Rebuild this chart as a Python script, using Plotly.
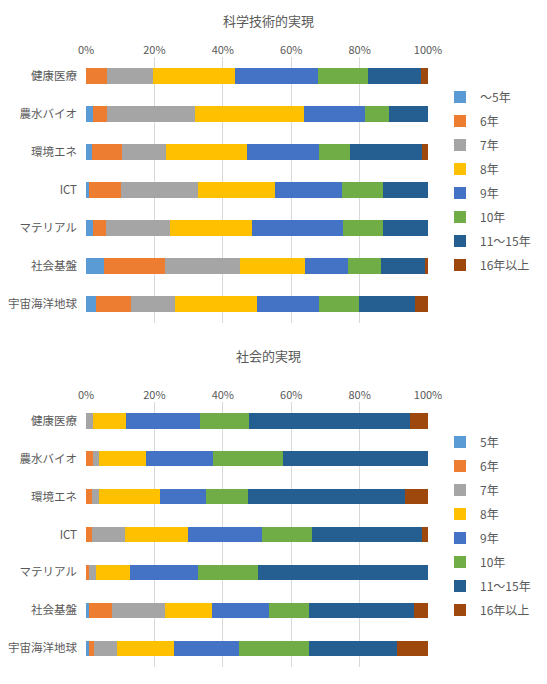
import plotly.graph_objects as go

# 分野
categories = ["健康医療", "農水バイオ", "環境エネ", "ICT", "マテリアル", "社会基盤", "宇宙海洋地球"]

colors = ["#5B9BD5", "#ED7D31", "#A5A5A5", "#FFC000", "#4472C4", "#70AD47", "#255E91", "#9E480E"]

# 科学技術的実現 (%)
names_tech = ["～5年", "6年", "7年", "8年", "9年", "10年", "11～15年", "16年以上"]
tech_5 = [0.0, 1.9, 1.8, 0.8, 1.9, 5.2, 3.0]
tech_6 = [6.2, 4.3, 8.8, 9.5, 4.0, 17.9, 10.2]
tech_7 = [13.5, 25.6, 13.0, 22.4, 18.6, 22.0, 12.7]
tech_8 = [23.9, 32.0, 23.6, 22.5, 23.9, 18.9, 24.0]
tech_9 = [24.1, 17.6, 21.0, 19.6, 26.7, 12.7, 18.1]
tech_10 = [14.7, 7.1, 9.3, 12.1, 11.8, 9.6, 11.9]
tech_11_15 = [15.6, 11.4, 20.9, 13.2, 13.1, 12.8, 16.2]
tech_16 = [2.0, 0.0, 1.9, 0.0, 0.0, 1.0, 3.9]

# 社会的実現 (%)
names_soc = ["5年", "6年", "7年", "8年", "9年", "10年", "11～15年", "16年以上"]
soc_5 = [0.0, 0.0, 0.0, 0.0, 0.0, 1.0, 1.0]
soc_6 = [0.0, 1.9, 1.8, 1.8, 1.0, 6.5, 1.3]
soc_7 = [1.9, 2.0, 1.9, 9.5, 1.9, 15.6, 6.8]
soc_8 = [9.7, 13.5, 18.0, 18.6, 10.0, 13.8, 16.8]
soc_9 = [21.6, 19.6, 13.3, 21.5, 19.7, 16.7, 19.0]
soc_10 = [14.6, 20.7, 12.3, 14.7, 17.6, 11.6, 20.3]
soc_11_15 = [47.0, 42.3, 46.2, 32.0, 49.7, 30.6, 25.9]
soc_16 = [5.2, 0.0, 6.6, 1.9, 0.0, 4.2, 9.0]

tech = [tech_5, tech_6, tech_7, tech_8, tech_9, tech_10, tech_11_15, tech_16]
soc = [soc_5, soc_6, soc_7, soc_8, soc_9, soc_10, soc_11_15, soc_16]

# the page body adds an 8px margin, so the figure is 8px smaller and positions are shifted
OFF = 8
W, H = 547 - OFF, 684 - OFF
L, R = 86 - OFF, 547 - 428
PW = W - L - R


def fy(py):
    return 1 - (py - OFF) / H


def fx(px):
    return (px - 86) / PW


fig = go.Figure()

for i, vals in enumerate(tech):
    fig.add_trace(go.Bar(y=categories, x=vals, orientation="h", name=names_tech[i],
                         marker=dict(color=colors[i], line_width=0), width=0.4,
                         xaxis="x", yaxis="y", legend="legend", legendgroup="t%d" % i))
for i, vals in enumerate(soc):
    fig.add_trace(go.Bar(y=categories, x=vals, orientation="h", name=names_soc[i],
                         marker=dict(color=colors[i], line_width=0), width=0.4,
                         xaxis="x2", yaxis="y2", legend="legend2", legendgroup="s%d" % i))

axis_x = dict(range=[0, 100], side="top", ticksuffix="%", dtick=20, showgrid=True,
              gridcolor="#D9D9D9", gridwidth=1, zeroline=False, showline=False,
              tickfont=dict(size=11, color="#595959"), ticks="", automargin=False)
axis_y = dict(autorange="reversed", showgrid=False, showline=False, ticks="",
              tickfont=dict(size=11.5, color="#595959"), ticklabelstandoff=8, automargin=False)

legend_style = dict(x=fx(440), xanchor="left", yanchor="middle", font=dict(size=12, color="#595959"),
                    tracegroupgap=5, itemwidth=30, bgcolor="rgba(0,0,0,0)")

fig.update_layout(
    barmode="stack",
    barnorm="percent",
    width=W, height=H,
    margin=dict(l=L, r=R, t=0, b=0, autoexpand=False),
    paper_bgcolor="white",
    plot_bgcolor="white",
    font=dict(family="Noto Sans CJK JP", color="#595959"),
    xaxis=dict(axis_x, domain=[0, 1], anchor="y"),
    yaxis=dict(axis_y, domain=[fy(323), fy(57)], anchor="x"),
    xaxis2=dict(axis_x, domain=[0, 1], anchor="y2"),
    yaxis2=dict(axis_y, domain=[fy(667), fy(402)], anchor="x2"),
    legend=dict(legend_style, y=fy(181)),
    legend2=dict(legend_style, y=fy(526)),
    annotations=[
        dict(text="科学技術的実現", x=fx(268), y=fy(9), xref="paper", yref="paper",
             xanchor="center", yanchor="top", showarrow=False, font=dict(size=13, color="#595959")),
        dict(text="社会的実現", x=fx(268), y=fy(355), xref="paper", yref="paper",
             xanchor="center", yanchor="middle", showarrow=False, font=dict(size=13, color="#595959")),
    ],
)

fig.write_html("out.html")
